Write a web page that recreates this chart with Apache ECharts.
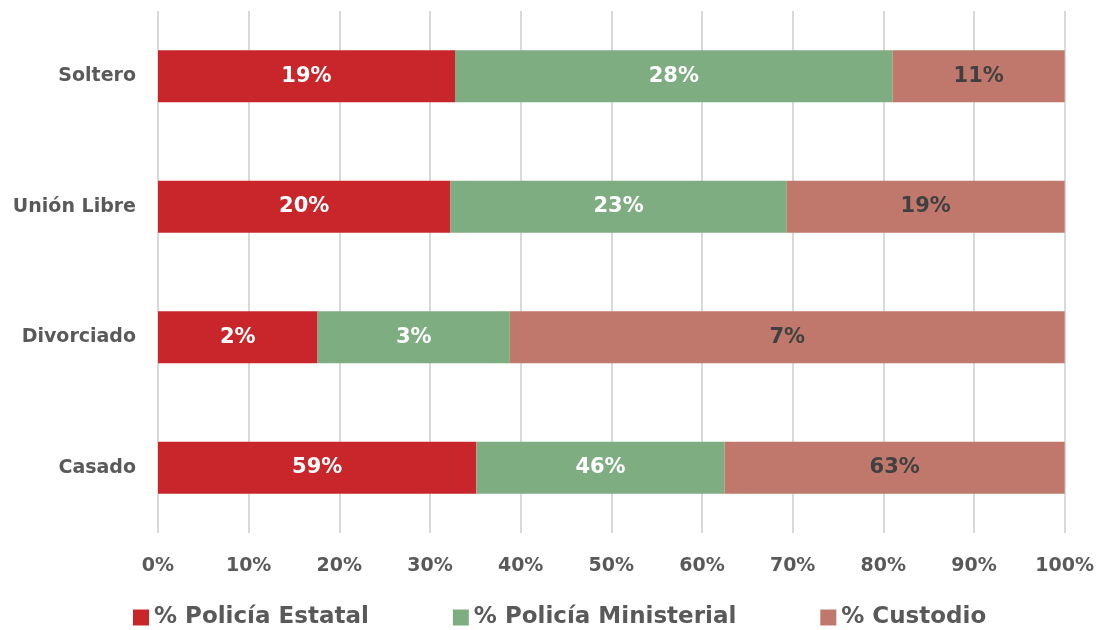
<!DOCTYPE html>
<html>
<head>
<meta charset="utf-8">
<script src="https://cdn.jsdelivr.net/npm/echarts@6/dist/echarts.min.js"></script>
<style>
html, body { margin: 0; padding: 0; background: #fff; }
#chart { width: 1097px; height: 630px; }
</style>
</head>
<body>
<div id="chart"></div>
<script>
// categorias de abajo hacia arriba
var categorias = ['Casado', 'Divorciado', 'Unión Libre', 'Soltero'];
var estatal = [59, 2.1, 20, 19];
var ministerial = [46, 2.53, 23, 28];
var custodio = [63, 7.3, 19, 11];
var nombres = ['% Policía Estatal', '% Policía Ministerial', '% Custodio'];
var colores = ['#C9262C', '#7FAD82', '#BF786B'];
var ticks = [0, 10, 20, 30, 40, 50, 60, 70, 80, 90, 100];

var fuente = '"DejaVu Sans", sans-serif';
var gris = '#595959';

var totales = categorias.map(function (c, i) {
    return estatal[i] + ministerial[i] + custodio[i];
});

var normalizar = function (lista) {
    return lista.map(function (v, i) {
        return { value: v / totales[i] * 100, raw: v };
    });
};

var serie = function (idx, lista, colorTexto) {
    return {
        name: nombres[idx],
        type: 'bar',
        stack: 'total',
        barWidth: 52,
        data: normalizar(lista),
        itemStyle: { color: colores[idx] },
        label: {
            show: true,
            position: 'inside',
            color: colorTexto,
            fontFamily: fuente,
            fontWeight: 'bold',
            fontSize: 21,
            formatter: function (p) {
                return Math.round(p.data.raw) + '%';
            }
        }
    };
};

var chart = echarts.init(document.getElementById('chart'));
var option = {
    animation: false,
    color: colores,
    grid: {
        left: 158,
        right: 32,
        top: 11,
        bottom: 97
    },
    legend: {
        top: 601,
        left: 128,
        itemWidth: 16,
        itemHeight: 16,
        itemGap: 84,
        icon: 'rect',
        textStyle: {
            color: gris,
            fontFamily: fuente,
            fontWeight: 'bold',
            fontSize: 23
        },
        data: nombres
    },
    xAxis: {
        type: 'value',
        min: 0,
        max: 100,
        interval: 10,
        axisLine: { show: false },
        axisTick: { show: false },
        splitLine: { lineStyle: { color: '#D9D9D9', width: 2 } },
        axisLabel: {
            color: gris,
            fontFamily: fuente,
            fontWeight: 'bold',
            fontSize: 19,
            margin: 24,
            formatter: function (v) {
                return ticks.indexOf(v) >= 0 ? v + '%' : '';
            }
        }
    },
    yAxis: {
        type: 'category',
        data: categorias,
        axisLine: { show: false },
        axisTick: { show: false },
        axisLabel: {
            color: gris,
            fontFamily: fuente,
            fontWeight: 'bold',
            fontSize: 19,
            margin: 22
        }
    },
    series: [
        serie(0, estatal, '#FFFFFF'),
        serie(1, ministerial, '#FFFFFF'),
        serie(2, custodio, '#404040')
    ]
};
chart.setOption(option);
</script>
</body>
</html>
